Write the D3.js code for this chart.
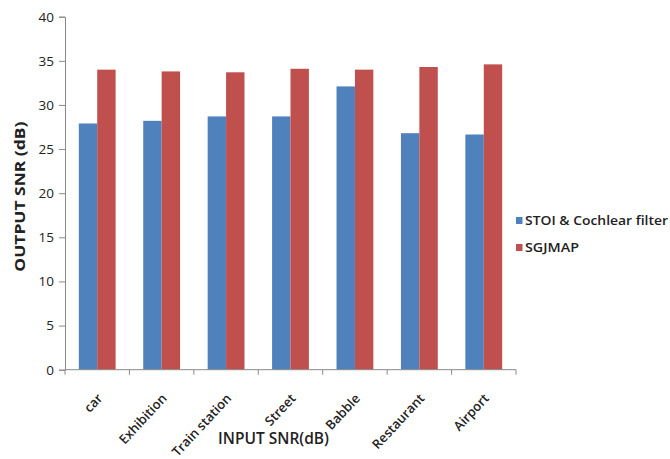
<!DOCTYPE html>
<html>
<head>
<meta charset="utf-8">
<script src="https://cdn.jsdelivr.net/npm/d3@7"></script>
<style>
  html, body { margin: 0; padding: 0; background: #fff; }
  svg { display: block; }
  text { font-family: "Open Sans", "Liberation Sans", sans-serif; fill: #222; }
</style>
</head>
<body>
<svg id="chart" width="670" height="459"></svg>
<script>
// Noise conditions on the x axis
const categories = ["car", "Exhibition", "Train station", "Street", "Babble", "Restaurant", "Airport"];
const seriesNames = ["STOI & Cochlear filter", "SGJMAP"];
const stoiValues = [27.9, 28.2, 28.7, 28.7, 32.1, 26.8, 26.65];
const sgjmapValues = [34.0, 33.8, 33.7, 34.1, 34.0, 34.3, 34.6];
const yTicks = [0, 5, 10, 15, 20, 25, 30, 35, 40];
const colors = ["#4F81BD", "#C0504D"];

const svg = d3.select("#chart");
const plotLeft = 65, plotRight = 516, plotTop = 16.7, plotBottom = 369.7;

const x0 = d3.scaleBand().domain(categories).range([plotLeft, plotRight]).padding(0);
const x1 = d3.scaleBand().domain(seriesNames).range([0, x0.bandwidth()])
  .paddingInner(0).paddingOuter(0.75);
const y = d3.scaleLinear().domain([0, 40]).range([plotBottom, plotTop]);

const rows = categories.map((c, i) => ({ cat: c, vals: [stoiValues[i], sgjmapValues[i]] }));

// bars
const groups = svg.append("g").selectAll("g").data(rows).join("g")
  .attr("transform", d => `translate(${x0(d.cat)},0)`);
groups.selectAll("rect")
  .data(d => d.vals.map((v, j) => ({ name: seriesNames[j], v, j })))
  .join("rect")
  .attr("x", d => x1(d.name))
  .attr("width", x1.bandwidth())
  .attr("y", d => y(d.v))
  .attr("height", d => y(0) - y(d.v))
  .attr("fill", d => colors[d.j]);

// y axis
const yAxis = svg.append("g").attr("transform", `translate(${plotLeft},0)`)
  .call(d3.axisLeft(y).tickValues(yTicks).tickSize(6).tickPadding(5).tickFormat(d3.format("d")));
yAxis.select(".domain").attr("stroke", "#8a8a8a");
yAxis.selectAll(".tick line").attr("stroke", "#8a8a8a");
yAxis.selectAll(".tick text").style("font-size", "13.5px").style("font-family", "'Open Sans', sans-serif")
  .attr("fill", "#222");

// x axis: line plus ticks at the category boundaries
const xAxisG = svg.append("g");
xAxisG.append("line").attr("x1", plotLeft).attr("x2", plotRight).attr("y1", plotBottom).attr("y2", plotBottom)
  .attr("stroke", "#8a8a8a");
const bounds = categories.map(c => x0(c)).concat([plotRight]);
xAxisG.selectAll("line.t").data(bounds).join("line").attr("class", "t")
  .attr("x1", d => d).attr("x2", d => d).attr("y1", plotBottom).attr("y2", plotBottom + 5)
  .attr("stroke", "#8a8a8a");

// rotated category labels
svg.append("g").selectAll("text").data(categories).join("text")
  .attr("transform", d => `translate(${x0(d) + x0.bandwidth() / 2 + 6},399) rotate(-47)`)
  .attr("text-anchor", "end")
  .style("font-size", "13px")
  .style("font-weight", "600")
  .text(d => d);

// axis titles
svg.append("text")
  .attr("x", 273.5).attr("y", 444)
  .attr("text-anchor", "middle")
  .attr("textLength", 111).attr("lengthAdjust", "spacingAndGlyphs")
  .style("font-size", "16px")
  .style("font-weight", "600")
  .text("INPUT SNR(dB)");

svg.append("text")
  .attr("transform", "translate(25,196.7) rotate(-90)")
  .attr("text-anchor", "middle")
  .attr("textLength", 150).attr("lengthAdjust", "spacingAndGlyphs")
  .style("font-size", "14px")
  .style("font-weight", "700")
  .text("OUTPUT SNR (dB)");

// legend
const legend = svg.append("g").selectAll("g").data(seriesNames).join("g")
  .attr("transform", (d, i) => `translate(516,${220.5 + i * 27})`);
legend.append("rect").attr("x", 0).attr("y", -3.5).attr("width", 6.5).attr("height", 7)
  .attr("fill", (d, i) => colors[i]);
legend.append("text").attr("x", 9).attr("y", 4.5)
  .style("font-size", "12.5px").style("font-weight", "600")
  .attr("textLength", (d, i) => i === 0 ? 143 : 54).attr("lengthAdjust", "spacingAndGlyphs")
  .text(d => d);
</script>
</body>
</html>
